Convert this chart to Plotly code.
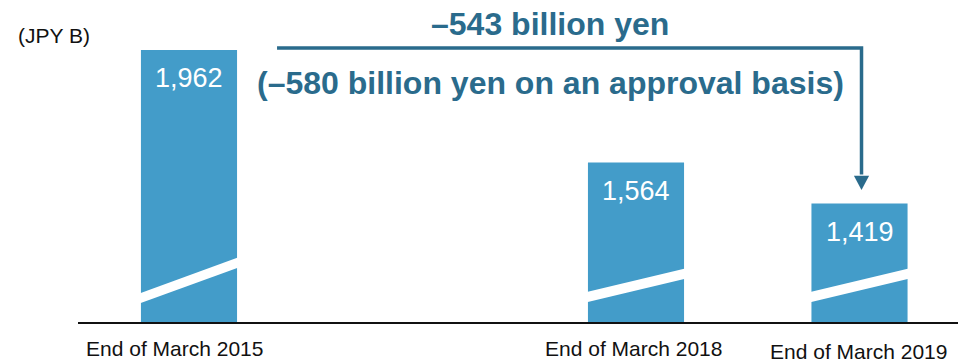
import plotly.graph_objects as go

# ---- data ----
categories = ["End of March 2015", "End of March 2018", "End of March 2019"]
values = [1962, 1564, 1419]
unit_label = "(JPY B)"
headline = "\u2013543 billion yen"
subline = "(\u2013580 billion yen on an approval basis)"

# ---- layout / style ----
W, H = 958, 360
ML, MR, MT, MB = 78, 0, 0, 38
x_pos = [0, 2, 3]
bar_w = 0.43
y_min, y_max = 1000, 2139
x_min, x_max = -0.4966, 3.4407
bar_color = "#439cc9"
accent = "#2a6b8c"
font_fam = "Liberation Sans, Arial, sans-serif"

# break band (value at left/right edge of lower edge, band thickness)
break_lo = [(1067, 1191), (1071, 1152), (1071, 1152)]
break_th = 36

label_xshift = [-14, -3, -1]
label_yshift = [-26, -26, -29]

def px2paper_x(px):
    return (px - ML) / (W - ML - MR)

def px2paper_y(py):
    return (H - MB - py) / (H - MB - MT)

fig = go.Figure()
fig.add_trace(go.Bar(
    x=x_pos, y=values, width=bar_w,
    marker=dict(color=bar_color, line=dict(width=0)),
    hoverinfo="skip",
))

shapes = []
annotations = []
for i, (xp, v) in enumerate(zip(x_pos, values)):
    x0, x1 = xp - bar_w / 2 - 0.01, xp + bar_w / 2 + 0.01
    lo_l, lo_r = break_lo[i]
    slope = (lo_r - lo_l) / (bar_w)
    l0 = lo_l - slope * 0.01
    r0 = lo_r + slope * 0.01
    shapes.append(dict(
        type="path", xref="x", yref="y",
        path=f"M {x0},{l0} L {x1},{r0} L {x1},{r0 + break_th} L {x0},{l0 + break_th} Z",
        fillcolor="white", line=dict(width=0), layer="above",
    ))
    annotations.append(dict(
        x=xp, y=v, xref="x", yref="y", text=f"{v:,}", showarrow=False,
        yanchor="middle", yshift=-28,
        font=dict(family=font_fam, size=27, color="white"),
    ))
    annotations.append(dict(
        x=xp, y=0, xref="x", yref="paper", text=categories[i], showarrow=False,
        yanchor="middle", xanchor="center",
        xshift=label_xshift[i], yshift=label_yshift[i],
        font=dict(family=font_fam, size=21, color="#111111"),
    ))

# bracket arrow from bar 1 region to bar 3
arrow_x0 = 0.394
arrow_x1 = x_pos[2] + 0.009
arrow_y_top = 1969
arrow_head_top = 1517
arrow_tip = 1467
head_half = 0.034
shapes.append(dict(
    type="path", xref="x", yref="y",
    path=f"M {arrow_x0},{arrow_y_top} L {arrow_x1},{arrow_y_top} L {arrow_x1},{arrow_head_top + 5}",
    line=dict(color=accent, width=3.5), fillcolor="rgba(0,0,0,0)",
))
shapes.append(dict(
    type="path", xref="x", yref="y",
    path=f"M {arrow_x1 - head_half},{arrow_head_top} L {arrow_x1 + head_half},{arrow_head_top} L {arrow_x1},{arrow_tip} Z",
    fillcolor=accent, line=dict(width=0),
))

annotations += [
    dict(x=px2paper_x(16), y=px2paper_y(35), xref="paper", yref="paper",
         text=unit_label, showarrow=False, xanchor="left", yanchor="middle",
         font=dict(family=font_fam, size=21, color="#111111")),
    dict(x=px2paper_x(550), y=px2paper_y(24), xref="paper", yref="paper",
         text=f"<b>{headline}</b>", showarrow=False, xanchor="center", yanchor="middle",
         font=dict(family=font_fam, size=32, color=accent)),
    dict(x=px2paper_x(550), y=px2paper_y(83), xref="paper", yref="paper",
         text=f"<b>{subline}</b>", showarrow=False, xanchor="center", yanchor="middle",
         font=dict(family=font_fam, size=32, color=accent)),
]

fig.update_layout(
    width=W, height=H,
    margin=dict(l=ML, r=MR, t=MT, b=MB, pad=0),
    paper_bgcolor="white", plot_bgcolor="white",
    showlegend=False,
    shapes=shapes, annotations=annotations,
    xaxis=dict(range=[x_min, x_max], showgrid=False, zeroline=False,
               showticklabels=False, ticks="", showline=True,
               linecolor="#111111", linewidth=2, fixedrange=True),
    yaxis=dict(range=[y_min, y_max], showgrid=False, zeroline=False,
               showticklabels=False, ticks="", showline=False, fixedrange=True),
)

fig.write_html("out.html", config={"displayModeBar": False})
